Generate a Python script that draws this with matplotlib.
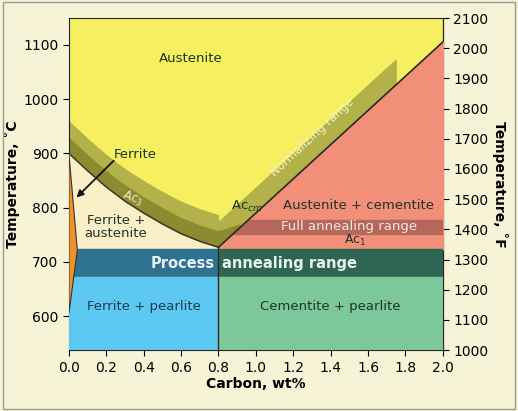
import numpy as np
import matplotlib.pyplot as plt
from matplotlib.patches import Polygon, Rectangle

# Ac3 line (ferrite+austenite / austenite boundary)
ac3_x = [0.0, 0.1, 0.2, 0.3, 0.4, 0.5, 0.6, 0.7, 0.8]
ac3_t = [900, 868, 838, 812, 790, 770, 752, 738, 727]
# Acm line (austenite / austenite + cementite)
acm_x = [0.8, 2.0]
acm_t = [727, 1105]
# Ferrite sliver boundary
ferr_x = [0.0, 0.045, 0.0]
ferr_t = [900, 722, 605]
# Ranges
a1_t = 723
proc_lo = 673
full_lo, full_hi = 752, 778
t_min, t_max = 537.5, 1149
x_eut = 0.8

fig = plt.figure(figsize=(5.18, 4.11), dpi=100)
fig.patch.set_facecolor("#f7f3d6")
ax = fig.add_axes([0.133, 0.148, 0.722, 0.808])
ax.set_xlim(0, 2.0)
ax.set_ylim(t_min, t_max)

def acm(x):
    return np.interp(x, acm_x, acm_t)

# Austenite background
ax.add_patch(Rectangle((0, t_min), 2.0, t_max - t_min, color="#f6ef60", zorder=0))

# Normalizing range band (light olive)
xs = np.linspace(0, 0.8, 30)
ac3 = np.interp(xs, ac3_x, ac3_t)
xr = np.linspace(0.8, 1.75, 20)
upper = list(zip(xs, ac3 + 58)) + list(zip(xr, acm(xr) + 45))
lower = list(zip(xr[::-1], acm(xr[::-1]))) + list(zip(xs[::-1], ac3[::-1]))
ax.add_patch(Polygon(upper + lower, color="#b3b14a", zorder=1))
# Ac3 dark band
xd = np.linspace(0, 0.92, 30)
ac3d = np.interp(xd, ac3_x + [0.92], ac3_t + [740])
ax.add_patch(Polygon(list(zip(xd, ac3d + 28)) + list(zip(xd[::-1], ac3d[::-1] - 1)),
                     color="#8d8b30", zorder=2))

# Ferrite + austenite
ax.fill_between(ac3_x, a1_t, ac3_t, color="#fbefc7", zorder=3)
# Austenite + cementite
ax.fill_between(acm_x, a1_t, acm_t, color="#f28f78", zorder=3)
# Full annealing range
x_full = np.interp([full_lo, full_hi], acm_t, acm_x)
ax.add_patch(Polygon([(x_full[0], full_lo), (2.0, full_lo), (2.0, full_hi), (x_full[1], full_hi)],
                     color="#b5675b", zorder=4))
# Process annealing range
ax.add_patch(Rectangle((0, proc_lo), x_eut, a1_t - proc_lo, color="#2f7190", zorder=4))
ax.add_patch(Rectangle((x_eut, proc_lo), 2.0 - x_eut, a1_t - proc_lo, color="#2f6653", zorder=4))
# Lower regions
ax.add_patch(Rectangle((0, t_min), x_eut, proc_lo - t_min, color="#5dc9f2", zorder=4))
ax.add_patch(Rectangle((x_eut, t_min), 2.0 - x_eut, proc_lo - t_min, color="#7dc89b", zorder=4))

# Ferrite sliver
ax.add_patch(Polygon(list(zip(ferr_x, ferr_t)), facecolor="#f0922a", edgecolor="#333", lw=0.8, zorder=5))

# Lines
ax.plot(ac3_x, ac3_t, color="#3a3a20", lw=1.2, zorder=6)
ax.plot(acm_x, acm_t, color="#2a2a20", lw=1.2, zorder=6)
ax.plot([x_eut, x_eut], [t_min, a1_t + 4], color="#2a2a20", lw=1.0, zorder=6)

tc = "#1f3328"
ax.text(0.65, 1075, "Austenite", ha="center", va="center", fontsize=9.5, color=tc, zorder=7)
ax.text(0.24, 898, "Ferrite", ha="left", va="center", fontsize=9.5, color=tc, zorder=7)
ax.annotate("", xy=(0.03, 815), xytext=(0.25, 890),
            arrowprops=dict(arrowstyle="-|>", color="#111", lw=1.3), zorder=7)
ax.text(0.34, 817, "Ac$_3$", ha="center", va="center", fontsize=8.5, color="#f0f0c0",
        rotation=-20, zorder=7)
ax.text(0.95, 803, "Ac$_{cm}$", ha="center", va="center", fontsize=9.5, color=tc, zorder=7)
ax.text(1.3, 930, "Normalizing range", ha="center", va="center", fontsize=8.5,
        color="#f4f4c0", rotation=43, zorder=7)
ax.text(1.55, 803, "Austenite + cementite", ha="center", va="center", fontsize=9.5, color=tc, zorder=7)
ax.text(1.5, 765, "Full annealing range", ha="center", va="center", fontsize=9.5, color="#f6e6e0", zorder=7)
ax.text(1.53, 739, "Ac$_1$", ha="center", va="center", fontsize=9, color=tc, zorder=7)
ax.text(0.25, 765, "Ferrite +\naustenite", ha="center", va="center", fontsize=9.5, color=tc,
        linespacing=1.0, zorder=7)
ax.text(0.78, 698, "Process", ha="right", va="center", fontsize=10.5, color="#e6f4f8",
        fontweight="bold", zorder=7)
ax.text(0.82, 698, "annealing range", ha="left", va="center", fontsize=10.5, color="#e6f4f0",
        fontweight="bold", zorder=7)
ax.text(0.4, 617, "Ferrite + pearlite", ha="center", va="center", fontsize=9.5, color="#1f3a4a", zorder=7)
ax.text(1.4, 617, "Cementite + pearlite", ha="center", va="center", fontsize=9.5, color=tc, zorder=7)

# Axes
ax.set_xticks(np.arange(0, 2.01, 0.2))
ax.set_xticklabels([f"{v:.1f}" for v in np.arange(0, 2.01, 0.2)])
ax.set_yticks([600, 700, 800, 900, 1000, 1100])
ax.tick_params(labelsize=10, direction="out", length=4)
ax.set_xlabel("Carbon, wt%", fontsize=10, fontweight="bold", labelpad=2)
ax.set_ylabel("Temperature, ˚C", fontsize=10, fontweight="bold", labelpad=2)
for s in ax.spines.values():
    s.set_color("#222")

sec = ax.secondary_yaxis("right", functions=(lambda c: c * 9 / 5 + 32, lambda f: (f - 32) * 5 / 9))
sec.set_yticks(np.arange(1000, 2101, 100))
sec.tick_params(labelsize=10, direction="out", length=4)
sec.set_ylabel("Temperature, ˚F", fontsize=10, fontweight="bold", rotation=270, labelpad=14)

fig.add_artist(Rectangle((0.005, 0.005), 0.99, 0.99, transform=fig.transFigure,
                         fill=False, edgecolor="#999", lw=1))
fig.savefig("out.png", dpi=100, facecolor=fig.get_facecolor())
